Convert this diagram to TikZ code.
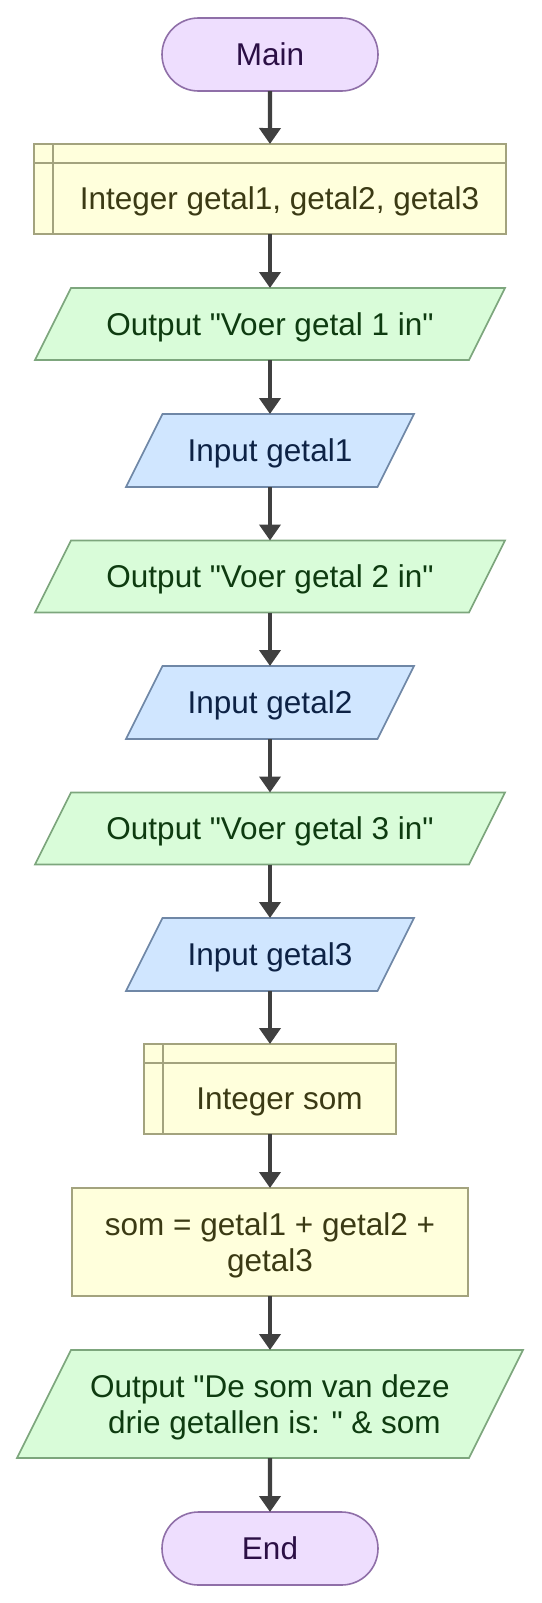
\documentclass[tikz,border=0pt]{standalone}
\usepackage{fontspec}
\setmainfont{Liberation Sans}[Ligatures=TeXOff]
\usetikzlibrary{arrows.meta,shapes.misc,backgrounds,calc}
\definecolor{termfill}{HTML}{EEDEFE}
\definecolor{termdraw}{HTML}{8F6FA8}
\definecolor{termtext}{HTML}{2B0F45}
\definecolor{declfill}{HTML}{FFFFDC}
\definecolor{decldraw}{HTML}{A3A37E}
\definecolor{decltext}{HTML}{3B3A14}
\definecolor{outfill}{HTML}{D9FCD9}
\definecolor{outdraw}{HTML}{7DA67D}
\definecolor{outtext}{HTML}{0E3B10}
\definecolor{infill}{HTML}{D0E6FF}
\definecolor{indraw}{HTML}{6F87A6}
\definecolor{intext}{HTML}{0D2245}
\definecolor{arrowc}{HTML}{404040}
\newcommand{\declpad}{\hspace*{19pt}}
\tikzset{
  base/.style={inner sep=0pt, outer sep=0pt, align=center,
    font=\fontsize{31.5}{36}\selectfont, text height=22.6pt, text depth=0pt},
  twolines/.style={text height=58.6pt, text depth=0pt},
  term/.style={base, shape=rounded rectangle, draw=termdraw, fill=termfill,
    line width=1.6pt, text=termtext, minimum width=216pt, minimum height=73pt},
  decl/.style={base, rectangle, draw=decldraw, fill=declfill, line width=1.6pt,
    text=decltext, text height=41.6pt},
  proc/.style={base, rectangle, draw=decldraw, fill=declfill, line width=1.6pt,
    text=decltext},
  outnode/.style={base, rectangle, text=outtext},
  innode/.style={base, rectangle, text=intext},
  outshape/.style={draw=outdraw, fill=outfill, line width=1.6pt},
  inshape/.style={draw=indraw, fill=infill, line width=1.6pt},
  hdr/.style={draw=decldraw, line width=1.6pt},
  arr/.style={draw=arrowc, line width=4.2pt, -{Triangle[width=21pt,length=16pt]}},
}
\begin{document}
\begin{tikzpicture}[x=1pt,y=-1pt]
\useasboundingbox (0,0) rectangle (541,1603);
\node[term] (main) at (270,54.5) {Main};
\node[decl, minimum width=472pt, minimum height=90pt] (d1) at (270,189) {\declpad Integer getal1, getal2, getal3};
\node[outnode, minimum width=470pt, minimum height=72pt] (o1) at (270,324) {Output "Voer getal 1 in"};
\node[innode, minimum width=288pt, minimum height=73pt] (i1) at (270,450.5) {Input getal1};
\node[outnode, minimum width=470pt, minimum height=72pt] (o2) at (270,576.5) {Output "Voer getal 2 in"};
\node[innode, minimum width=288pt, minimum height=73pt] (i2) at (270,702.5) {Input getal2};
\node[outnode, minimum width=470pt, minimum height=72pt] (o3) at (270,828.5) {Output "Voer getal 3 in"};
\node[innode, minimum width=288pt, minimum height=73pt] (i3) at (270,954.5) {Input getal3};
\node[decl, minimum width=252pt, minimum height=90pt] (s) at (270,1089) {\declpad Integer som};
\node[proc, twolines, minimum width=396pt, minimum height=108pt] (p) at (270,1242) {som = getal1 + getal2 +\\getal3};
\node[outnode, twolines, minimum width=506pt, minimum height=108pt] (o4) at (270,1404) {Output "De som van deze\\\hspace*{0.28em}drie getallen is: " \& som};
\node[term] (end) at (270,1548.5) {End};
% declaration headers
\foreach \n in {d1,s}{
  \draw[hdr] ($(\n.north west)+(0,19)$) -- ($(\n.north east)+(0,19)$);
  \draw[hdr] ($(\n.north west)+(19,0)$) -- ($(\n.south west)+(19,0)$);
}
% parallelograms
\begin{scope}[on background layer]
\foreach \n/\k/\st in {o1/36/outshape, i1/36.5/inshape, o2/36/outshape, i2/36.5/inshape, o3/36/outshape, i3/36.5/inshape, o4/54/outshape}{
  \draw[\st] ($(\n.north west)+(\k,0)$) -- (\n.north east) -- ($(\n.south east)-(\k,0)$) -- (\n.south west) -- cycle;
}
\end{scope}
% connectors
\draw[arr] (main) -- (d1);
\draw[arr] (d1) -- (o1);
\draw[arr] (o1) -- (i1);
\draw[arr] (i1) -- (o2);
\draw[arr] (o2) -- (i2);
\draw[arr] (i2) -- (o3);
\draw[arr] (o3) -- (i3);
\draw[arr] (i3) -- (s);
\draw[arr] (s) -- (p);
\draw[arr] (p) -- (o4);
\draw[arr] (o4) -- (end);
\end{tikzpicture}
\end{document}
